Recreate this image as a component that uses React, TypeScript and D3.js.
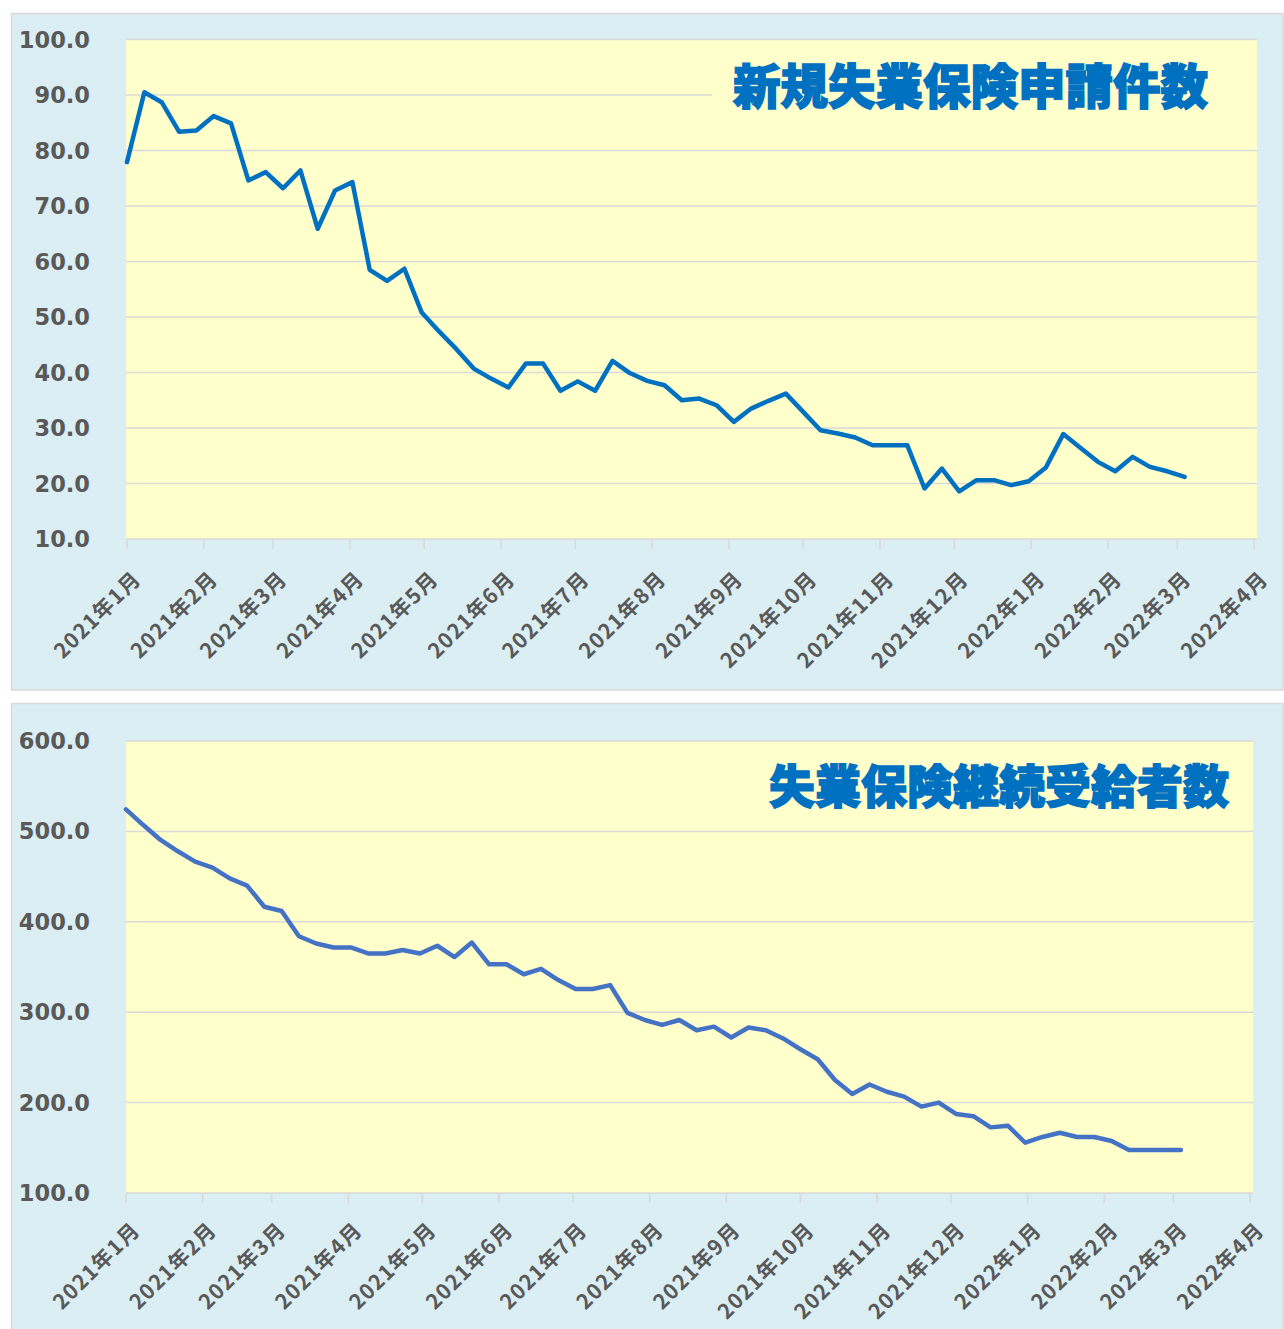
import React, { useEffect, useRef } from 'react';
import * as d3 from 'd3';

// weekly observations, first week plotted at 2021-01-01
const firstWeek = new Date(2021, 0, 1);

// 新規失業保険申請件数 (万件)
const newClaims = [
  77.9, 90.5, 88.7, 83.4, 83.6, 86.2, 84.9, 74.6, 76.1, 73.2, 76.4, 65.9, 72.8, 74.3, 58.5, 56.5,
  58.7, 50.8, 47.4, 44.2, 40.7, 38.9, 37.3, 41.6, 41.6, 36.7, 38.4, 36.7, 42.1, 39.9, 38.5, 37.7,
  35.0, 35.3, 34.1, 31.1, 33.5, 34.9, 36.2, 32.9, 29.6, 29.0, 28.3, 26.9, 26.9, 26.9, 19.1, 22.7,
  18.6, 20.6, 20.6, 19.7, 20.4, 22.9, 28.9, 26.4, 23.9, 22.2, 24.8, 23.0, 22.2, 21.2,
];

// 失業保険継続受給者数 (万人)
const continuingClaims = [
  524.4, 507, 490.5, 478, 466.5, 460, 448, 440, 416.7, 412, 384, 376, 371.6, 371.6, 365, 365,
  368.8, 365, 373.5, 361, 377, 353, 353, 342, 348, 335.6, 325.7, 325.7, 330, 299.3, 291.4, 286,
  291.4, 280, 284, 272, 283, 280, 271, 259, 248, 225, 209.5, 220, 212, 206.6, 195.6, 200,
  187.5, 185, 172.6, 174.5, 155.6, 162, 166.6, 162, 162, 157.5, 147.6, 147.6, 147.6, 147.6,
];

const monthTicks = [
  '2021-01', '2021-02', '2021-03', '2021-04', '2021-05', '2021-06', '2021-07', '2021-08',
  '2021-09', '2021-10', '2021-11', '2021-12', '2022-01', '2022-02', '2022-03', '2022-04',
];

const yTicksTop = [10, 20, 30, 40, 50, 60, 70, 80, 90, 100];
const yTicksBottom = [100, 200, 300, 400, 500, 600];

type ChartCfg = {
  title: string;
  values: number[];
  yTicks: number[];
  color: string;
  panel: { top: number; bottom: number };
  plot: { left: number; right: number; top: number; bottom: number };
  xRange: [number, number];
  labelOffset: number;
  titleX: number;
  titleY: number;
  titleSize: number;
  titleMask: boolean;
};

const charts: ChartCfg[] = [
  {
    title: '新規失業保険申請件数',
    values: newClaims,
    yTicks: yTicksTop,
    color: '#0070C0',
    panel: { top: 13.5, bottom: 690 },
    plot: { left: 126, right: 1257, top: 39.5, bottom: 539 },
    xRange: [127, 1254],
    labelOffset: 35,
    titleX: 1208,
    titleY: 83,
    titleSize: 47.5,
    titleMask: true,
  },
  {
    title: '失業保険継続受給者数',
    values: continuingClaims,
    yTicks: yTicksBottom,
    color: '#4472C4',
    panel: { top: 703.5, bottom: 1345 },
    plot: { left: 126, right: 1253, top: 741, bottom: 1193 },
    xRange: [126, 1250],
    labelOffset: 32,
    titleX: 1229,
    titleY: 783,
    titleSize: 46,
    titleMask: false,
  },
];

const parseMonth = d3.timeParse('%Y-%m');
const fmtMonth = (d: Date) => `${d.getFullYear()}年${d.getMonth() + 1}月`;

export default function App() {
  const svgRef = useRef<SVGSVGElement | null>(null);

  useEffect(() => {
    if (!svgRef.current) return;
    const svg = d3.select(svgRef.current);
    svg.selectAll('*').remove();

    svg.append('rect').attr('width', 1284).attr('height', 1329).attr('fill', '#ffffff');

    charts.forEach(cfg => {
      const g = svg.append('g');
      const ticks = monthTicks.map(m => parseMonth(m)!);
      const pts = cfg.values.map((v, i) => ({ date: d3.timeDay.offset(firstWeek, i * 7), value: v }));

      const x = d3.scaleTime()
        .domain([ticks[0], ticks[ticks.length - 1]])
        .range(cfg.xRange);
      const y = d3.scaleLinear()
        .domain([cfg.yTicks[0], cfg.yTicks[cfg.yTicks.length - 1]])
        .range([cfg.plot.bottom, cfg.plot.top]);

      // chart area
      g.append('rect')
        .attr('x', 11.5)
        .attr('y', cfg.panel.top)
        .attr('width', 1271.5)
        .attr('height', cfg.panel.bottom - cfg.panel.top)
        .attr('fill', '#DAEEF3')
        .attr('stroke', '#D9D9D9')
        .attr('stroke-width', 1.5);

      // plot area
      g.append('rect')
        .attr('x', cfg.plot.left)
        .attr('y', cfg.plot.top)
        .attr('width', cfg.plot.right - cfg.plot.left)
        .attr('height', cfg.plot.bottom - cfg.plot.top)
        .attr('fill', '#FFFFCC');

      // gridlines
      g.append('g')
        .selectAll('line')
        .data(cfg.yTicks.slice(1))
        .join('line')
        .attr('x1', cfg.plot.left)
        .attr('x2', cfg.plot.right)
        .attr('y1', d => y(d))
        .attr('y2', d => y(d))
        .attr('stroke', '#D9D9D9')
        .attr('stroke-width', 1.5);

      // x axis line + ticks
      g.append('line')
        .attr('x1', cfg.plot.left)
        .attr('x2', cfg.plot.right)
        .attr('y1', cfg.plot.bottom)
        .attr('y2', cfg.plot.bottom)
        .attr('stroke', '#D9D9D9')
        .attr('stroke-width', 1.5);
      g.append('g')
        .selectAll('line')
        .data(ticks)
        .join('line')
        .attr('x1', d => x(d))
        .attr('x2', d => x(d))
        .attr('y1', cfg.plot.bottom)
        .attr('y2', cfg.plot.bottom + 10)
        .attr('stroke', '#D9D9D9')
        .attr('stroke-width', 1.5);

      // y labels
      g.append('g')
        .selectAll('text')
        .data(cfg.yTicks)
        .join('text')
        .attr('x', 90)
        .attr('y', d => y(d))
        .attr('text-anchor', 'end')
        .attr('dominant-baseline', 'central')
        .attr('font-family', '"DejaVu Sans", sans-serif')
        .attr('font-weight', 'bold')
        .attr('font-size', 22.5)
        .attr('fill', '#595959')
        .text(d => d.toFixed(1));

      // x labels, rotated
      g.append('g')
        .selectAll('text')
        .data(ticks)
        .join('text')
        .attr('transform', d => `translate(${x(d) + 9},${cfg.plot.bottom + cfg.labelOffset}) rotate(-45)`)
        .attr('text-anchor', 'end')
        .attr('dominant-baseline', 'central')
        .attr('font-family', '"Noto Sans CJK JP", sans-serif')
        .attr('font-weight', 'bold')
        .attr('font-size', 21)
        .attr('letter-spacing', 1.2)
        .attr('fill', '#595959')
        .text(d => fmtMonth(d));

      const line = d3.line<{ date: Date; value: number }>()
        .x(d => x(d.date))
        .y(d => y(d.value));

      g.append('path')
        .datum(pts)
        .attr('fill', 'none')
        .attr('stroke', cfg.color)
        .attr('stroke-width', 4.5)
        .attr('stroke-linejoin', 'round')
        .attr('stroke-linecap', 'round')
        .attr('d', line);

      if (cfg.titleMask) {
        g.append('rect')
          .attr('x', 712)
          .attr('y', cfg.titleY - 28)
          .attr('width', cfg.plot.right - 712)
          .attr('height', 56)
          .attr('fill', '#FFFFCC');
      }

      g.append('text')
        .attr('x', cfg.titleX)
        .attr('y', cfg.titleY)
        .attr('text-anchor', 'end')
        .attr('dominant-baseline', 'central')
        .attr('font-family', '"Noto Sans CJK JP", sans-serif')
        .attr('font-weight', 900)
        .attr('font-size', cfg.titleSize)
        .attr('fill', '#0070C0')
        .attr('stroke', '#0070C0')
        .attr('stroke-width', 1.5)
        .text(cfg.title);
    });
  }, []);

  return (
    <svg
      ref={svgRef}
      width={1284}
      height={1329}
      style={{ position: 'absolute', left: 0, top: 0, display: 'block' }}
    />
  );
}
